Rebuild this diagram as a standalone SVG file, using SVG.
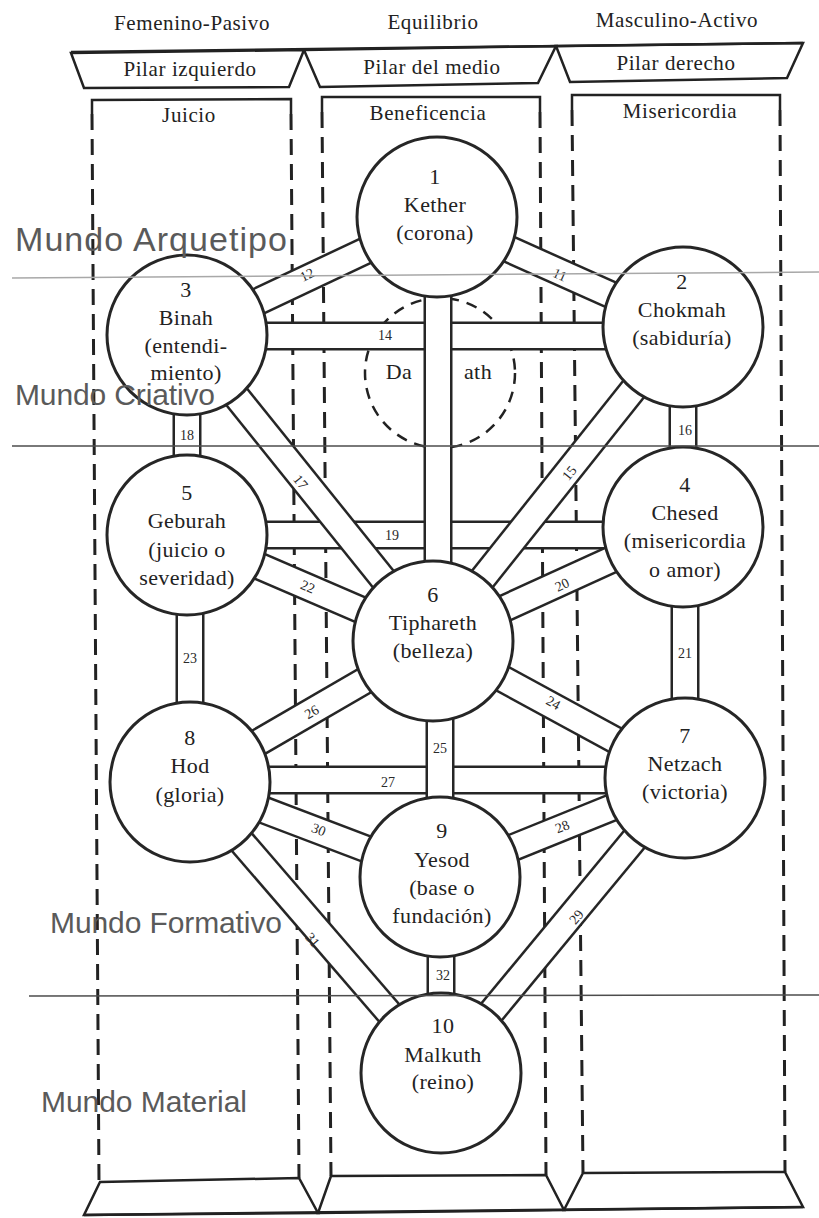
<svg xmlns="http://www.w3.org/2000/svg" width="819" height="1218" viewBox="0 0 819 1218">
<style>
.bg{fill:#fff}
.o{stroke:#262626;stroke-width:29;stroke-linecap:butt}
.i{stroke:#fff;stroke-width:24;stroke-linecap:butt}
.node circle{fill:#fff;stroke:#262626;stroke-width:3}
.t{font-family:"Liberation Serif",serif;font-size:22px;fill:#222;text-anchor:middle;letter-spacing:0.4px}
.pl{font-family:"Liberation Serif",serif;font-size:14px;fill:#2a2a2a;text-anchor:middle}
.hd{font-family:"Liberation Serif",serif;font-size:21px;fill:#222;text-anchor:middle;letter-spacing:0.6px}
.w{font-family:"Liberation Sans",Arial,sans-serif;font-size:30px;fill:#5a5a5a}
.wbig{font-size:34px}
.dash{stroke:#222;stroke-width:3;stroke-dasharray:16 9;fill:none}
.solid{stroke:#222;stroke-width:2.5;fill:none}
.trap{stroke:#222;stroke-width:2.5;fill:none;stroke-linejoin:miter}
.daath{stroke:#222;stroke-width:2.5;stroke-dasharray:11 8;fill:none}
</style>
<rect class="bg" x="0" y="0" width="819" height="1218"/>

<g id="header">
<text class="hd" x="192" y="30">Femenino-Pasivo</text>
<text class="hd" x="433" y="29">Equilibrio</text>
<text class="hd" x="677" y="27">Masculino-Activo</text>
<polygon class="trap" points="71,53 304,50 289,87 84,88"/>
<polygon class="trap" points="304,50 556,46 538,83 320,87"/>
<polygon class="trap" points="556,46 803,43 787,78 570,82"/>
<path class="solid" d="M71,52 L803,43" stroke-width="3.5"/>
<text class="hd" x="190" y="76">Pilar izquierdo</text>
<text class="hd" x="432" y="74">Pilar del medio</text>
<text class="hd" x="676" y="70">Pilar derecho</text>
</g>

<g id="pillars">
<path class="solid" d="M92,114 L92,100 L291,99 L291,114"/>
<path class="solid" d="M322,112 L322,97 L540,97 L540,112"/>
<path class="solid" d="M572,110 L572,95 L780,95 L780,110"/>
<line class="dash" x1="92" y1="114" x2="99" y2="1182"/>
<line class="dash" x1="291" y1="114" x2="299" y2="1178"/>
<line class="dash" x1="322" y1="112" x2="331" y2="1176"/>
<line class="dash" x1="540" y1="112" x2="546" y2="1175"/>
<line class="dash" x1="572" y1="110" x2="583" y2="1173"/>
<line class="dash" x1="780" y1="110" x2="785" y2="1172"/>
<text class="hd" x="189" y="122">Juicio</text>
<text class="hd" x="428" y="120">Beneficencia</text>
<text class="hd" x="680" y="118">Misericordia</text>
<polygon class="trap" points="100,1182 299,1178 318,1213 84,1215"/>
<polygon class="trap" points="331,1176 546,1175 564,1210 318,1213"/>
<polygon class="trap" points="583,1173 785,1172 803,1207 564,1210"/>
<path class="solid" d="M84,1215 L803,1207" stroke-width="3.5"/>
</g>

<g id="daath">
<circle class="daath" cx="440" cy="373" r="75"/>
</g>

<g id="connectors">
<g id="p14"><line class="o" x1="187" y1="336" x2="683" y2="336"/><line class="i" x1="187" y1="336" x2="683" y2="336"/></g>
<g id="p19"><line class="o" x1="187" y1="535" x2="683" y2="535"/><line class="i" x1="187" y1="535" x2="683" y2="535"/></g>
<g id="p27"><line class="o" x1="190" y1="780" x2="685" y2="780"/><line class="i" x1="190" y1="780" x2="685" y2="780"/></g>
<g id="p13"><line class="o" x1="438" y1="217" x2="438" y2="641"/><line class="i" x1="438" y1="217" x2="438" y2="641"/></g>
<g id="p25"><line class="o" x1="440" y1="641" x2="440" y2="877"/><line class="i" x1="440" y1="641" x2="440" y2="877"/></g>
<g id="p32"><line class="o" x1="441" y1="877" x2="441" y2="1073"/><line class="i" x1="441" y1="877" x2="441" y2="1073"/></g>
<g id="p11"><line class="o" x1="437" y1="217" x2="683" y2="327"/><line class="i" x1="437" y1="217" x2="683" y2="327"/></g>
<g id="p12"><line class="o" x1="437" y1="217" x2="187" y2="335"/><line class="i" x1="437" y1="217" x2="187" y2="335"/></g>
<g id="p15"><line class="o" x1="683" y1="327" x2="433" y2="641"/><line class="i" x1="683" y1="327" x2="433" y2="641"/></g>
<g id="p16"><line class="o" x1="683" y1="327" x2="683" y2="527"/><line class="i" x1="683" y1="327" x2="683" y2="527"/></g>
<g id="p17"><line class="o" x1="187" y1="335" x2="433" y2="641"/><line class="i" x1="187" y1="335" x2="433" y2="641"/></g>
<g id="p18"><line class="o" x1="187" y1="335" x2="187" y2="535"/><line class="i" x1="187" y1="335" x2="187" y2="535"/></g>
<g id="p20"><line class="o" x1="683" y1="527" x2="433" y2="641"/><line class="i" x1="683" y1="527" x2="433" y2="641"/></g>
<g id="p21"><line class="o" x1="685" y1="527" x2="685" y2="778"/><line class="i" x1="685" y1="527" x2="685" y2="778"/></g>
<g id="p22"><line class="o" x1="187" y1="535" x2="433" y2="641"/><line class="i" x1="187" y1="535" x2="433" y2="641"/></g>
<g id="p23"><line class="o" x1="190" y1="535" x2="190" y2="782"/><line class="i" x1="190" y1="535" x2="190" y2="782"/></g>
<g id="p24"><line class="o" x1="433" y1="641" x2="685" y2="778"/><line class="i" x1="433" y1="641" x2="685" y2="778"/></g>
<g id="p26"><line class="o" x1="433" y1="641" x2="190" y2="782"/><line class="i" x1="433" y1="641" x2="190" y2="782"/></g>
<g id="p28"><line class="o" x1="685" y1="778" x2="440" y2="877"/><line class="i" x1="685" y1="778" x2="440" y2="877"/></g>
<g id="p29"><line class="o" x1="685" y1="778" x2="441" y2="1073"/><line class="i" x1="685" y1="778" x2="441" y2="1073"/></g>
<g id="p30"><line class="o" x1="190" y1="782" x2="440" y2="877"/><line class="i" x1="190" y1="782" x2="440" y2="877"/></g>
<g id="p31"><line class="o" x1="190" y1="782" x2="441" y2="1073"/><line class="i" x1="190" y1="782" x2="441" y2="1073"/></g>
<g id="path-labels">
<text class="pl" transform="translate(309,279) rotate(-25)">12</text>
<text class="pl" transform="translate(558,279) rotate(24)">11</text>
<text class="pl" x="385" y="340">14</text>
<text class="pl" transform="translate(573,476) rotate(-51)">15</text>
<text class="pl" x="685" y="435">16</text>
<text class="pl" transform="translate(297,485) rotate(51)">17</text>
<text class="pl" x="187" y="440">18</text>
<text class="pl" x="392" y="540">19</text>
<text class="pl" transform="translate(564,589) rotate(-25)">20</text>
<text class="pl" x="685" y="658">21</text>
<text class="pl" transform="translate(306,591) rotate(23)">22</text>
<text class="pl" x="190" y="663">23</text>
<text class="pl" transform="translate(551,707) rotate(29)">24</text>
<text class="pl" x="440" y="753">25</text>
<text class="pl" transform="translate(314,716) rotate(-30)">26</text>
<text class="pl" x="388" y="787">27</text>
<text class="pl" transform="translate(564,831) rotate(-22)">28</text>
<text class="pl" transform="translate(580,920) rotate(-50)">29</text>
<text class="pl" transform="translate(317,834) rotate(21)">30</text>
<text class="pl" transform="translate(309,943) rotate(49)">31</text>
<text class="pl" x="443" y="980">32</text>
</g>
</g>

<g id="daath-label">
<text class="t" x="399" y="379">Da</text>
<text class="t" x="478" y="379">ath</text>
</g>

<g id="kether" class="node"><circle cx="437" cy="217" r="80"/>
<text class="t" x="435" y="184">1</text><text class="t" x="435" y="212">Kether</text><text class="t" x="435" y="240">(corona)</text></g>
<g id="chokmah" class="node"><circle cx="683" cy="327" r="80"/>
<text class="t" x="682" y="289">2</text><text class="t" x="682" y="317">Chokmah</text><text class="t" x="682" y="345">(sabiduría)</text></g>
<g id="binah" class="node"><circle cx="187" cy="335" r="80"/>
<text class="t" x="186" y="297">3</text><text class="t" x="186" y="325">Binah</text><text class="t" x="186" y="353">(entendi-</text><text class="t" x="186" y="380">miento)</text></g>
<g id="chesed" class="node"><circle cx="683" cy="527" r="80"/>
<text class="t" x="685" y="492">4</text><text class="t" x="685" y="520">Chesed</text><text class="t" x="685" y="548">(misericordia</text><text class="t" x="685" y="577">o amor)</text></g>
<g id="geburah" class="node"><circle cx="187" cy="535" r="80"/>
<text class="t" x="187" y="500">5</text><text class="t" x="187" y="528">Geburah</text><text class="t" x="187" y="557">(juicio o</text><text class="t" x="187" y="585">severidad)</text></g>
<g id="tiphareth" class="node"><circle cx="433" cy="641" r="80"/>
<text class="t" x="433" y="602">6</text><text class="t" x="433" y="630">Tiphareth</text><text class="t" x="433" y="658">(belleza)</text></g>
<g id="netzach" class="node"><circle cx="685" cy="778" r="80"/>
<text class="t" x="685" y="743">7</text><text class="t" x="685" y="771">Netzach</text><text class="t" x="685" y="799">(victoria)</text></g>
<g id="hod" class="node"><circle cx="190" cy="782" r="80"/>
<text class="t" x="190" y="745">8</text><text class="t" x="190" y="773">Hod</text><text class="t" x="190" y="802">(gloria)</text></g>
<g id="yesod" class="node"><circle cx="440" cy="877" r="80"/>
<text class="t" x="442" y="838">9</text><text class="t" x="442" y="867">Yesod</text><text class="t" x="442" y="895">(base o</text><text class="t" x="442" y="923">fundación)</text></g>
<g id="malkuth" class="node"><circle cx="441" cy="1073" r="80"/>
<text class="t" x="443" y="1033">10</text><text class="t" x="443" y="1062">Malkuth</text><text class="t" x="443" y="1089">(reino)</text></g>

<g id="worlds">
<line x1="12" y1="278" x2="819" y2="272" stroke="#a8a8a8" stroke-width="1.5"/>
<line x1="12" y1="446" x2="819" y2="446" stroke="#4d4d4d" stroke-width="1.5"/>
<line x1="29" y1="996" x2="819" y2="995" stroke="#4d4d4d" stroke-width="1.5"/>
<text class="w wbig" x="15" y="251" textLength="272" lengthAdjust="spacing">Mundo Arquetipo</text>
<text class="w" x="15" y="405" textLength="200" lengthAdjust="spacing">Mundo Criativo</text>
<text class="w" x="50" y="933" textLength="232" lengthAdjust="spacing">Mundo Formativo</text>
<text class="w" x="41" y="1112" textLength="206" lengthAdjust="spacing">Mundo Material</text>
</g>
</svg>
